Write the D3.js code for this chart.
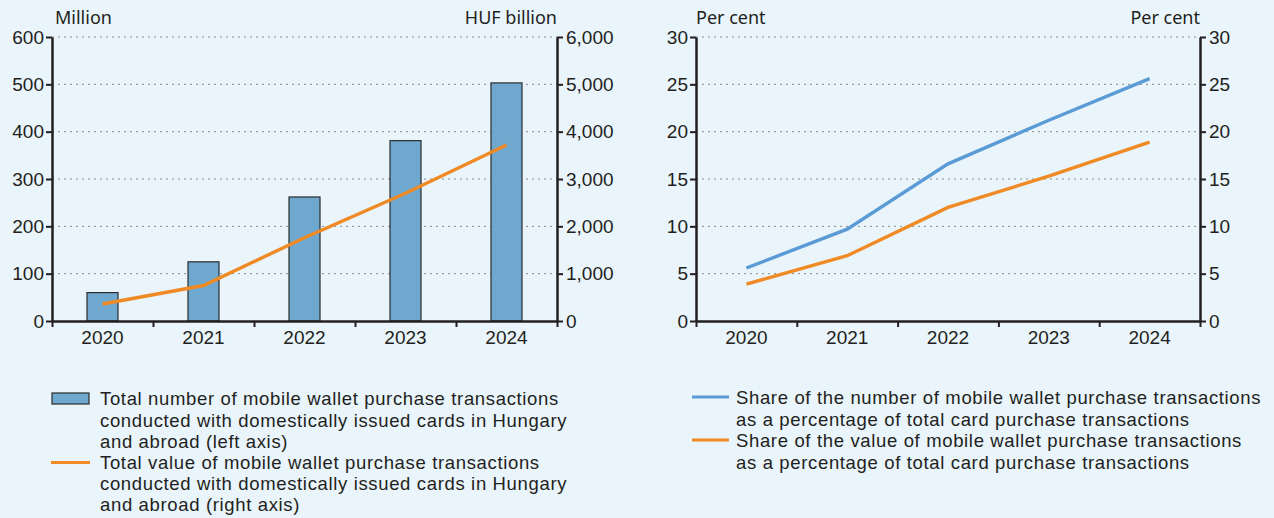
<!DOCTYPE html>
<html>
<head>
<meta charset="utf-8">
<script src="https://cdn.jsdelivr.net/npm/d3@7"></script>
<style>
    body { margin: 0; background: #e9f4fb; }
    svg { display: block; font-family: "Noto Sans", "Open Sans", sans-serif; }
    .axis path, .axis line { stroke: #231f20; }
    .axis text { fill: #231f20; font-size: 19px; }
    .grid line { stroke: #8a8a8a; stroke-dasharray: 2,4; }
    .label { fill: #231f20; font-family: "Liberation Sans", Arial, sans-serif; font-size: 18.5px; letter-spacing: 0.65px; }
    .title { fill: #231f20; font-size: 18px; }
</style>
</head>
<body>
<div id="chart"></div>
<script>
// chart data
let years = ['2020', '2021', '2022', '2023', '2024'];
let txnCount = [60, 125, 262, 381, 503];          // million, left axis
let txnValue = [360, 750, 1760, 2700, 3720];      // HUF billion, right axis
let shareNumber = [5.6, 9.7, 16.6, 21.2, 25.6];   // per cent
let shareValue = [3.9, 6.9, 12.0, 15.3, 18.9];    // per cent

let leftTicks = [0, 100, 200, 300, 400, 500, 600];
let rightTicks = [0, 1000, 2000, 3000, 4000, 5000, 6000];
let pctTicks = [0, 5, 10, 15, 20, 25, 30];

let legendLeft = [
    ['Total number of mobile wallet purchase transactions',
     'conducted with domestically issued cards in Hungary',
     'and abroad (left axis)'],
    ['Total value of mobile wallet purchase transactions',
     'conducted with domestically issued cards in Hungary',
     'and abroad (right axis)']
];
let legendRight = [
    ['Share of the number of mobile wallet purchase transactions',
     'as a percentage of total card purchase transactions'],
    ['Share of the value of mobile wallet purchase transactions',
     'as a percentage of total card purchase transactions']
];

let blue = '#5b9bd5', orange = '#f08a24', barFill = '#6fa8cf';

let svg = d3.select('#chart').append('svg')
    .attr('width', 1274)
    .attr('height', 518);

svg.append('rect').attr('width', 1274).attr('height', 518).attr('fill', '#e9f4fb');

let plotTop = 37, plotBottom = 321;

// draws the shared frame (axes, grid, x labels) for one panel
function frame(x0, x1, yL, yR, ticksL, ticksR, fmtR) {
    let g = svg.append('g');
    let band = d3.scaleBand().domain(years).range([x0, x1]);

    // grid
    g.append('g').attr('class', 'grid')
        .selectAll('line')
        .data(ticksL.slice(1))
        .enter().append('line')
        .attr('x1', x0).attr('x2', x1)
        .attr('y1', d => yL(d)).attr('y2', d => yL(d));

    return {g: g, band: band, draw: function () {
        let tickPos = d3.scaleLinear().domain([0, years.length]).range([x0, x1]);
        g.append('g').attr('class', 'axis')
            .attr('transform', 'translate(0,' + plotBottom + ')')
            .call(d3.axisBottom(tickPos).tickValues(d3.range(0, years.length + 1)).tickFormat('').tickSize(6).tickSizeOuter(0))
            .call(s => s.select('.domain').attr('stroke-width', 2.5))
            .call(s => s.selectAll('.tick line').attr('stroke-width', 2));

        g.append('g').attr('class', 'axis')
            .attr('transform', 'translate(0,' + plotBottom + ')')
            .call(d3.axisBottom(band).tickSize(0).tickPadding(10))
            .call(s => s.select('.domain').remove());

        g.append('g').attr('class', 'axis')
            .attr('transform', 'translate(' + x0 + ',0)')
            .call(d3.axisLeft(yL).tickValues(ticksL).tickSize(6).tickSizeOuter(0).tickPadding(2))
            .call(s => s.select('.domain').attr('stroke-width', 2.5))
            .call(s => s.selectAll('.tick line').attr('stroke-width', 2));

        g.append('g').attr('class', 'axis')
            .attr('transform', 'translate(' + x1 + ',0)')
            .call(d3.axisRight(yR).tickValues(ticksR).tickFormat(fmtR).tickSize(6).tickSizeOuter(0).tickPadding(3))
            .call(s => s.select('.domain').attr('stroke-width', 2.5))
            .call(s => s.selectAll('.tick line').attr('stroke-width', 2));
    }};
}

// ---- left panel: bars + line ----
let yCount = d3.scaleLinear().domain([0, 600]).range([plotBottom, plotTop]);
let yValue = d3.scaleLinear().domain([0, 6000]).range([plotBottom, plotTop]);
let left = frame(52, 557, yCount, yValue, leftTicks, rightTicks, d3.format(','));

let barW = 31;
left.g.selectAll('.bar')
    .data(years)
    .enter().append('rect')
    .attr('class', 'bar')
    .attr('x', d => left.band(d) + left.band.bandwidth() / 2 - barW / 2)
    .attr('width', barW)
    .attr('y', (d, i) => yCount(txnCount[i]))
    .attr('height', (d, i) => plotBottom - yCount(txnCount[i]))
    .attr('fill', barFill)
    .attr('stroke', '#2b2b2b')
    .attr('stroke-width', 1.2);

left.g.append('path')
    .datum(txnValue)
    .attr('fill', 'none')
    .attr('stroke', orange)
    .attr('stroke-width', 3.4)
    .attr('d', d3.line()
        .x((d, i) => left.band(years[i]) + left.band.bandwidth() / 2)
        .y(d => yValue(d)));

left.draw();

// ---- right panel: two lines ----
let yPct = d3.scaleLinear().domain([0, 30]).range([plotBottom, plotTop]);
let right = frame(696, 1200, yPct, yPct, pctTicks, pctTicks, d3.format('d'));

[[shareNumber, blue], [shareValue, orange]].forEach(s => {
    right.g.append('path')
        .datum(s[0])
        .attr('fill', 'none')
        .attr('stroke', s[1])
        .attr('stroke-width', 3.4)
        .attr('d', d3.line()
            .x((d, i) => right.band(years[i]) + right.band.bandwidth() / 2)
            .y(d => yPct(d)));
});

right.draw();

// axis titles
svg.append('text').attr('class', 'title').attr('x', 55).attr('y', 24).text('Million');
svg.append('text').attr('class', 'title').attr('x', 557).attr('y', 24).attr('text-anchor', 'end').text('HUF billion');
svg.append('text').attr('class', 'title').attr('x', 696).attr('y', 24).text('Per cent');
svg.append('text').attr('class', 'title').attr('x', 1200).attr('y', 24).attr('text-anchor', 'end').text('Per cent');

// legends
let lg = svg.append('g');
lg.append('rect').attr('x', 52).attr('y', 393).attr('width', 37).attr('height', 11)
    .attr('fill', barFill).attr('stroke', '#2b2b2b').attr('stroke-width', 1.2);
lg.append('line').attr('x1', 51).attr('x2', 90).attr('y1', 462.5).attr('y2', 462.5)
    .attr('stroke', orange).attr('stroke-width', 3);

[blue, orange].forEach((c, i) => {
    lg.append('line').attr('x1', 692).attr('x2', 729)
        .attr('y1', 397 + i * 2 * 21.5).attr('y2', 397 + i * 2 * 21.5)
        .attr('stroke', c).attr('stroke-width', 3);
});

function textBlock(lines, x, y, lh) {
    lines.forEach((t, i) => {
        lg.append('text').attr('class', 'label')
            .attr('x', x).attr('y', y + i * lh).attr('dy', '0.35em').text(t);
    });
}
textBlock(legendLeft.flat(), 100, 399, 21.2);
textBlock(legendRight.flat(), 736, 398, 21.5);
</script>
</body>
</html>
